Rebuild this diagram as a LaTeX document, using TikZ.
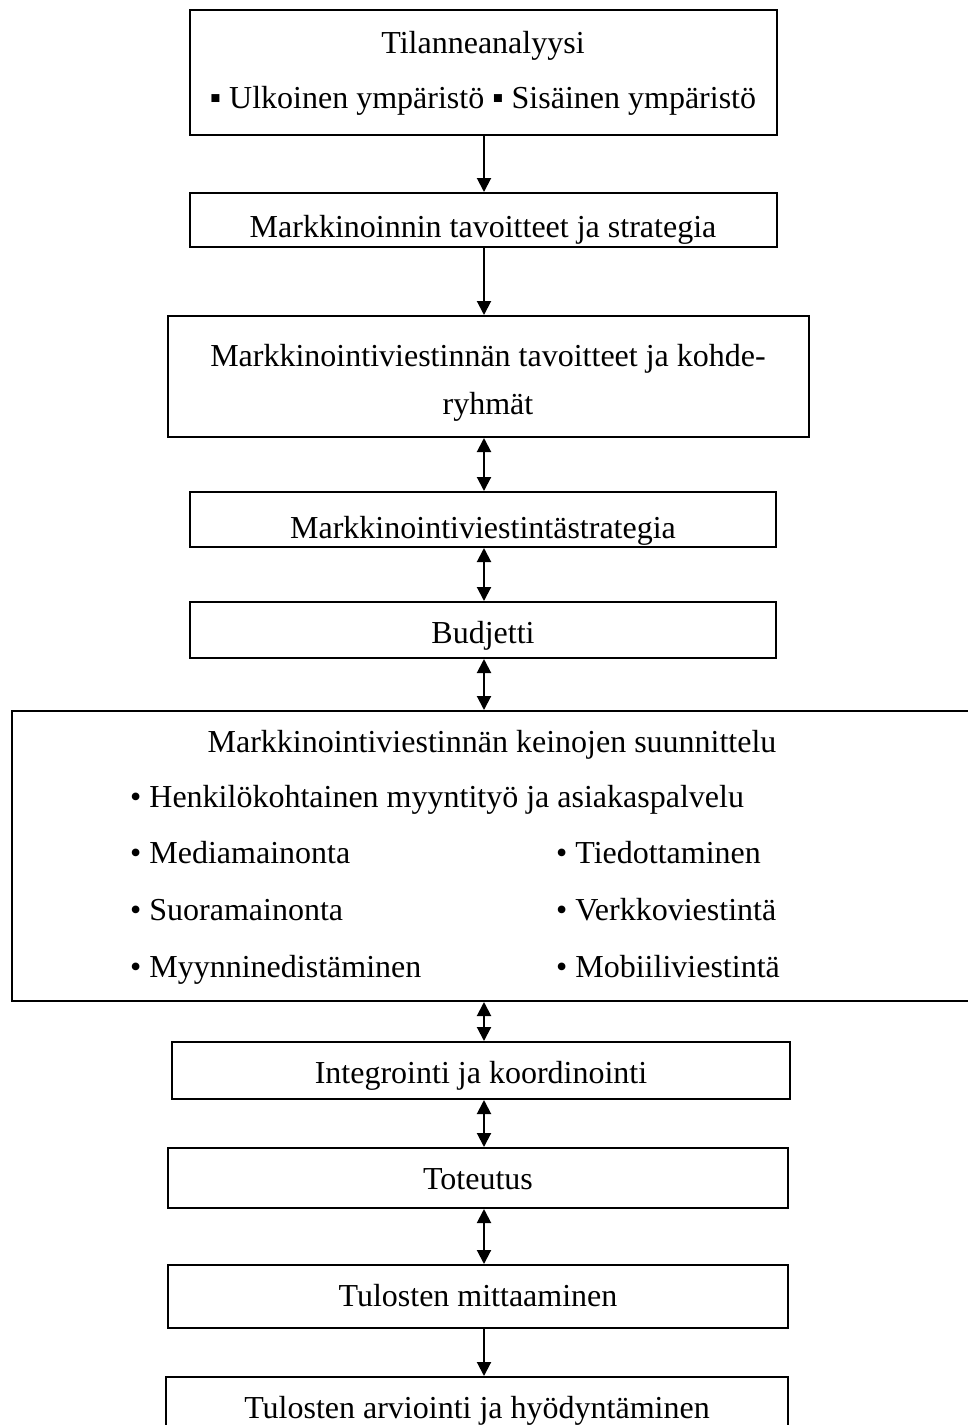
\documentclass[tikz,border=0pt]{standalone}
\usepackage{fontspec}
\setmainfont{Liberation Serif}
\usetikzlibrary{arrows.meta}

\tikzset{
  box/.style={draw=black, line width=2pt, inner sep=0pt, fill=none},
  label/.style={inner sep=0pt, anchor=base, font=\fontsize{32pt}{38pt}\selectfont},
  item/.style={inner sep=0pt, anchor=base west, font=\fontsize{32pt}{38pt}\selectfont},
  tip/.style={Triangle[length=14pt, width=14pt]},
  oneway/.style={line width=2pt, -{Triangle[length=14pt, width=14pt]}},
  twoway/.style={line width=2pt, {Triangle[length=14pt, width=14pt]}-{Triangle[length=14pt, width=14pt]}},
}

\begin{document}
\begin{tikzpicture}[x=1pt, y=-1pt]
\useasboundingbox (0,0) rectangle (968,1425);
\fill[white] (0,0) rectangle (968,1425);
\clip (0,0) rectangle (968,1425);

% common axis of the connectors
\coordinate (ax) at (484,0);

% boxes
\node[box, minimum width=587pt, minimum height=125pt] (b1) at (483.5,72.5) {};
\node[box, minimum width=587pt, minimum height=54pt]  (b2) at (483.5,220) {};
\node[box, minimum width=641pt, minimum height=121pt] (b3) at (488.5,376.5) {};
\node[box, minimum width=586pt, minimum height=55pt]  (b4) at (483,519.5) {};
\node[box, minimum width=586pt, minimum height=56pt]  (b5) at (483,630) {};
\node[box, minimum width=988pt, minimum height=290pt] (b6) at (506,856) {};
\node[box, minimum width=618pt, minimum height=57pt]  (b7) at (481,1070.5) {};
\node[box, minimum width=620pt, minimum height=60pt]  (b8) at (478,1178) {};
\node[box, minimum width=620pt, minimum height=63pt]  (b9) at (478,1296.5) {};
\node[box, minimum width=622pt, minimum height=83pt]  (b10) at (477,1418.5) {};

% texts
\node[label] (t1a) at (483,53) {Tilanneanalyysi};
\node[label] (t1b) at (483,108) {▪ Ulkoinen ympäristö ▪ Sisäinen ympäristö};

\begin{scope}
  \clip (b2.north west) rectangle ([yshift=2pt]b2.south east);
  \node[label] (t2) at (483,237) {Markkinoinnin tavoitteet ja strategia};
\end{scope}

\node[label] (t3a) at (488,366) {Markkinointiviestinnän tavoitteet ja kohde-};
\node[label] (t3b) at (488,414) {ryhmät};

\begin{scope}
  \clip (b4.north west) rectangle ([yshift=2pt]b4.south east);
  \node[label] (t4) at (483,538) {Markkinointiviestintästrategia};
\end{scope}

\node[label] (t5) at (483,643) {Budjetti};

\node[label] (t6) at (492,752) {Markkinointiviestinnän keinojen suunnittelu};
\node[item] (i1) at (130,807) {• Henkilökohtainen myyntityö ja asiakaspalvelu};
\node[item] (i2) at (130,863) {• Mediamainonta};
\node[item] (i3) at (130,920) {• Suoramainonta};
\node[item] (i4) at (130,977) {• Myynninedistäminen};
\node[item] (i5) at (556,863) {• Tiedottaminen};
\node[item] (i6) at (556,920) {• Verkkoviestintä};
\node[item] (i7) at (556,977) {• Mobiiliviestintä};

\node[label] (t7) at (481,1083) {Integrointi ja koordinointi};
\node[label] (t8) at (478,1189) {Toteutus};
\node[label] (t9) at (478,1306) {Tulosten mittaaminen};
\node[label] (t10) at (477,1418) {Tulosten arviointi ja hyödyntäminen};

% connectors
\draw[oneway] (b1.south -| ax) -- (b2.north -| ax);
\draw[oneway] (b2.south -| ax) -- (b3.north -| ax);
\draw[twoway] (b3.south -| ax) -- (b4.north -| ax);
\draw[twoway] (b4.south -| ax) -- (b5.north -| ax);
\draw[twoway] (b5.south -| ax) -- (b6.north -| ax);
\draw[twoway] (b6.south -| ax) -- (b7.north -| ax);
\draw[twoway] (b7.south -| ax) -- (b8.north -| ax);
\draw[twoway] (b8.south -| ax) -- (b9.north -| ax);
\draw[oneway] (b9.south -| ax) -- (b10.north -| ax);
\end{tikzpicture}
\end{document}
